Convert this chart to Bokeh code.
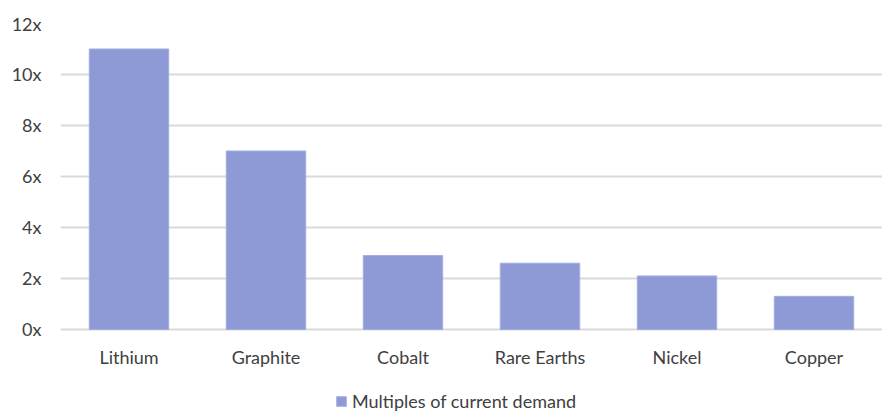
from bokeh.plotting import figure
from bokeh.models import ColumnDataSource, Legend, LegendItem, CustomJSTickFormatter, FixedTicker
from bokeh.core.properties import value
from bokeh.embed import file_html
from bokeh.resources import INLINE

categories = ["Lithium", "Graphite", "Cobalt", "Rare Earths", "Nickel", "Copper"]
multiples = [11, 7, 2.9, 2.6, 2.1, 1.3]
series_name = "Multiples of current demand"
y_ticks = [0, 2, 4, 6, 8, 10, 12]

FONT = "Lato"
TEXT = "#404040"
GRID = "#d9d9d9"
BAR = "#8e9ad6"

src = ColumnDataSource(dict(cat=categories, val=multiples, lab_y=[-1.06] * len(categories)))

p = figure(width=882, height=412, x_range=categories, y_range=(-3.255, 12),
           output_backend="svg", toolbar_location=None,
           min_border_left=60, min_border_right=0, min_border_top=23, min_border_bottom=0)
p.outline_line_color = None
p.background_fill_color = "white"
p.border_fill_color = "white"

r = p.vbar(x="cat", top="val", width=0.58, source=src, fill_color=BAR, line_color="#a3addf", line_width=1)

# category labels below the baseline
p.text(x="cat", y="lab_y", text="cat", source=src, text_align="center", text_baseline="middle",
       text_font=value(FONT), text_font_size="18px", text_color=TEXT)

p.xaxis.visible = False
p.xgrid.grid_line_color = None
p.ygrid.grid_line_color = GRID
p.ygrid.grid_line_width = 2
p.ygrid.ticker = FixedTicker(ticks=y_ticks)
p.yaxis.ticker = FixedTicker(ticks=y_ticks)
p.yaxis.formatter = CustomJSTickFormatter(code="return tick + 'x';")
p.yaxis.axis_line_color = None
p.yaxis.major_tick_line_color = None
p.yaxis.minor_tick_line_color = None
p.yaxis.major_label_standoff = 13
p.yaxis.major_label_text_font = FONT
p.yaxis.major_label_text_font_size = "18px"
p.yaxis.major_label_text_color = TEXT

legend = Legend(items=[LegendItem(label=series_name, renderers=[r])],
                location=(275, 0), orientation="horizontal",
                label_text_font=FONT, label_text_font_size="18px", label_text_color=TEXT,
                glyph_width=12, glyph_height=12, padding=0, margin=0, spacing=0,
                label_standoff=5, border_line_color=None, background_fill_alpha=0)
p.add_layout(legend, "center")

open("out.html", "w").write(file_html(p, INLINE))
